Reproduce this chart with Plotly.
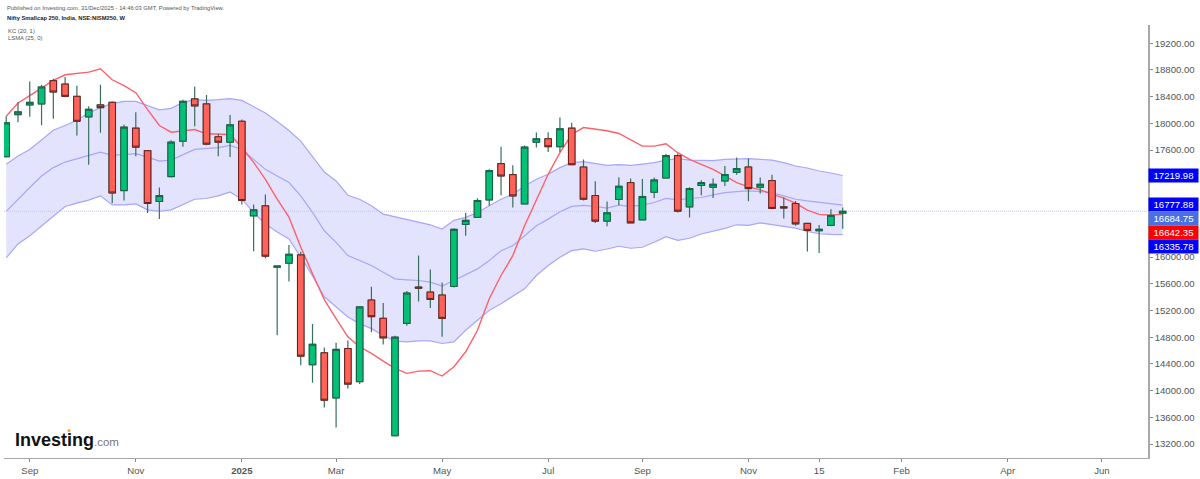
import pandas as pd
import plotly.graph_objects as go

dates = pd.date_range("2024-08-19", periods=72, freq="7D")

opens = [17502,18132,18276,18291,18639,18589,18405,18098,18276,18315,16995,17928,17591,16831,17204,17734,18366,18291,17800,17719,18032,16617,16766,15848,15907,16031,14387,14566,13890,14630,14134,15356,15082,13324,15007,15550,15475,15431,15559,16488,16593,16855,17397,17233,16795,17719,17770,17651,17928,17347,16920,16538,16861,17114,16557,16970,17183,17517,16751,17070,17044,17138,17268,17347,17044,17144,16751,16801,16503,16393,16473,16657]
highs = [18107,18315,18628,18579,18668,18694,18564,18256,18579,18330,17978,18166,17595,17040,17749,18355,18554,18425,17844,18127,18057,16786,16935,15867,16180,16080,14998,14645,14715,14750,15261,15554,15311,14820,15490,16021,15812,15618,16429,16661,16880,17312,17651,17372,17670,17864,17868,18087,18008,17461,17134,16831,17193,17174,17168,17189,17546,17551,17044,17149,17174,17362,17491,17476,17189,17233,16891,16840,16512,16478,16716,16742]
lows = [17490,18017,18098,17972,18068,18390,17819,17382,17859,16806,16846,17510,16657,16567,17189,17651,17958,17674,17510,17496,16786,16086,15982,14829,15633,14381,14119,13747,13449,14030,14098,14873,14690,13319,14969,15335,15237,14805,15544,16319,16582,16766,16925,16742,16791,17640,17570,17570,17372,16846,16508,16459,16776,16508,16548,16885,17174,16667,16593,16925,16885,17064,17233,16836,16950,16716,16578,16468,16082,16061,16459,16423]
closes = [18008,18172,18315,18545,18470,18405,18032,18211,18236,16959,17943,17645,16801,16920,17719,18330,18262,17689,17719,17978,16846,16706,16012,15863,16041,14516,14694,13856,14616,14098,15252,15107,14790,14799,15460,15535,15365,15082,16414,16548,16846,17293,17213,16915,17645,17770,17651,17919,17382,16865,16538,16661,17059,16512,16906,17153,17517,16687,17025,17114,17089,17233,17323,17025,17089,16727,16736,16497,16399,16414,16622,16684.75]

kc_upper = [17387,17511,17610,17759,17898,17968,18047,18157,18236,18296,18330,18330,18266,18202,18226,18315,18355,18345,18355,18370,18345,18256,18157,18028,17894,17734,17511,17272,17138,16925,16865,16766,16642,16602,16567,16527,16482,16418,16548,16593,16667,16766,16865,16940,17064,17163,17238,17338,17412,17427,17402,17372,17382,17372,17391,17412,17451,17472,17451,17442,17442,17461,17472,17472,17461,17451,17412,17362,17332,17287,17257,17219.98]
kc_mid = [16682,16865,17040,17213,17338,17421,17472,17521,17570,17521,17536,17546,17496,17436,17451,17536,17610,17625,17636,17670,17610,17461,17312,17213,17114,16915,16667,16393,16220,16021,15946,15872,15773,15673,15659,15648,15624,15565,15648,15733,15822,15946,16095,16170,16319,16468,16567,16676,16757,16772,16757,16731,16776,16757,16776,16816,16876,16855,16876,16891,16930,16965,16980,16989,16980,16965,16915,16865,16840,16816,16795,16777.88]
kc_lower = [15986,16195,16319,16468,16617,16757,16806,16851,16915,16780,16780,16795,16706,16682,16706,16791,16865,16876,16915,16974,16865,16667,16493,16374,16269,16001,15718,15405,15256,15103,15003,14928,14829,14739,14730,14745,14745,14705,14730,14903,15052,15201,15301,15410,15524,15723,15872,15997,16095,16120,16086,16120,16161,16131,16146,16220,16304,16250,16280,16344,16384,16429,16482,16473,16512,16488,16468,16433,16384,16348,16339,16335.78]
lsma = [18107,18306,18415,18530,18643,18728,18753,18768,18817,18653,18564,18460,18206,17968,17868,17889,17908,17844,17834,17834,17640,17417,17163,16865,16597,16150,15748,15361,15077,14805,14656,14556,14441,14332,14258,14292,14298,14218,14358,14581,14903,15375,15723,16021,16468,16865,17238,17561,17834,17938,17913,17889,17849,17759,17660,17660,17695,17561,17461,17387,17312,17213,17114,17049,17004,16940,16880,16806,16702,16638,16627,16642.35]

last_price = 16684.75
x_tick_vals = ["2024-09-02","2024-11-04","2025-01-06","2025-03-03","2025-05-05","2025-07-07","2025-09-01","2025-11-03","2025-12-15","2026-02-02","2026-04-06","2026-06-01"]
x_tick_text = ["Sep","Nov","<b>2025</b>","Mar","May","Jul","Sep","Nov","15","Feb","Apr","Jun"]
y_tick_vals = [19200,18800,18400,18000,17600,16000,15600,15200,14800,14400,14000,13600,13200]
y_tick_text = ["%.2f" % v for v in y_tick_vals]

# price boxes: text, background colour, centre y in pixels from the top
box_labels = ["17219.98","16777.88","16684.75","16642.35","16335.78"]
box_colors = ["#0000ff","#0000ff","#4a6fe3","#ff0000","#0000ff"]
box_centres = [176,205.7,219.4,233.3,247.2]

W, H = 1200, 479
L, R, T, B = 3.5, 1148, 25, 460
FONT = "Liberation Sans"
Y_RANGE = [12991, 19473]

x_start = dates[0] - pd.Timedelta(days=1.31)
x_end = dates[0] + pd.Timedelta(days=678.4)

fig = go.Figure()
band_line = dict(color="#a6a6fa", width=1.2)
fig.add_trace(go.Scatter(x=dates, y=kc_upper, mode="lines", line=band_line, hoverinfo="skip"))
fig.add_trace(go.Scatter(x=dates, y=kc_lower, mode="lines", line=band_line, fill="tonexty",
                         fillcolor="rgba(115,115,245,0.2)", hoverinfo="skip"))
fig.add_trace(go.Scatter(x=dates, y=kc_mid, mode="lines", line=band_line, hoverinfo="skip"))
fig.add_trace(go.Scatter(x=[x_start, x_end], y=[last_price, last_price], mode="lines",
                         line=dict(color="#c0c8fc", width=1.2, dash="1px,1px"), hoverinfo="skip"))
fig.add_trace(go.Scatter(x=dates, y=lsma, mode="lines", line=dict(color="#ff6068", width=1.4), hoverinfo="skip"))

# candles sit on an overlaying pair of axes so they are painted above the bands
wick = dict(line=dict(color="#3a6f5c", width=1.2), fillcolor="rgba(0,0,0,0)")
fig.add_trace(go.Candlestick(x=dates, open=opens, high=highs, low=lows, close=closes,
                             increasing=wick, decreasing=wick, hoverinfo="skip",
                             xaxis="x2", yaxis="y2"))
body_high = [max(o, c) for o, c in zip(opens, closes)]
body_low = [min(o, c) for o, c in zip(opens, closes)]
fig.add_trace(go.Candlestick(x=dates, open=opens, high=body_high, low=body_low, close=closes,
                             increasing=dict(line=dict(color="#1d5f48", width=1), fillcolor="#00c176"),
                             decreasing=dict(line=dict(color="#6e1f1f", width=1), fillcolor="#ff6258"),
                             hoverinfo="skip", xaxis="x2", yaxis="y2"))

annotations = []
def txt(x, y, text, size, color, **kw):
    annotations.append(dict(xref="paper", yref="paper", x=(x - L) / (R - L), y=(B - y) / (B - T),
                            text=text, showarrow=False, xanchor="left", yanchor="middle",
                            font=dict(family=FONT, size=size, color=color), **kw))

txt(5, 7.5, "Published on Investing.com, 31/Dec/2025 - 14:46:03 GMT, Powered by TradingView.", 5.8, "#555555")
txt(5, 17.5, "<b>Nifty Smallcap 250, India, NSE:NISM250, W</b>", 5.8, "#222222")
txt(5.5, 31.5, "KC (20, 1)", 5.9, "#555555")
txt(5.5, 38, "LSMA (25, 0)", 5.9, "#555555")
txt(13, 442, "<b>Investing</b><span style='font-size:11.5px;color:#777777'>.com</span>", 18, "#111111")

for label, colour, yc in zip(box_labels, box_colors, box_centres):
    annotations.append(dict(xref="paper", yref="paper", x=(1148 - L) / (R - L), y=(B - yc) / (B - T),
                            text=label, showarrow=False, xanchor="left", yanchor="middle",
                            width=49, height=12.6, bgcolor=colour, borderpad=0, align="center",
                            font=dict(family=FONT, size=9.6, color="#ffffff")))

fig.update_layout(
    width=W, height=H, autosize=False,
    margin=dict(l=L, r=W - R, t=T, b=H - B, pad=0),
    plot_bgcolor="#ffffff", paper_bgcolor="#ffffff",
    showlegend=False, boxgap=0.45, boxgroupgap=0,
    font=dict(family=FONT, size=9.6, color="#555555"),
    annotations=annotations,
    shapes=[dict(type="circle", xref="paper", yref="paper",
                 x0=(67 - L) / (R - L), x1=(70 - L) / (R - L),
                 y0=(B - 434.2) / (B - T), y1=(B - 431.2) / (B - T),
                 fillcolor="#f5a623", line=dict(width=0))],
    xaxis=dict(type="date", range=[x_start, x_end], rangeslider=dict(visible=False),
               showgrid=False, zeroline=False, showline=True, linecolor="#a8a8a8", linewidth=1.3,
               ticks="outside", ticklen=3, tickcolor="#888888", tickvals=x_tick_vals, ticktext=x_tick_text,
               tickangle=0),
    yaxis=dict(range=Y_RANGE, side="right", showgrid=False, zeroline=False, showline=True,
               linecolor="#a8a8a8", linewidth=1.5, ticks="outside", ticklen=3, tickcolor="#888888",
               tickvals=y_tick_vals, ticktext=y_tick_text),
    xaxis2=dict(type="date", range=[x_start, x_end], overlaying="x", visible=False,
                rangeslider=dict(visible=False), showgrid=False),
    yaxis2=dict(range=Y_RANGE, overlaying="y", side="right", visible=False, showgrid=False),
)
fig.write_html("out.html", config=dict(displayModeBar=False),
               post_script="document.body.style.margin='0';document.documentElement.style.overflow='hidden';")
